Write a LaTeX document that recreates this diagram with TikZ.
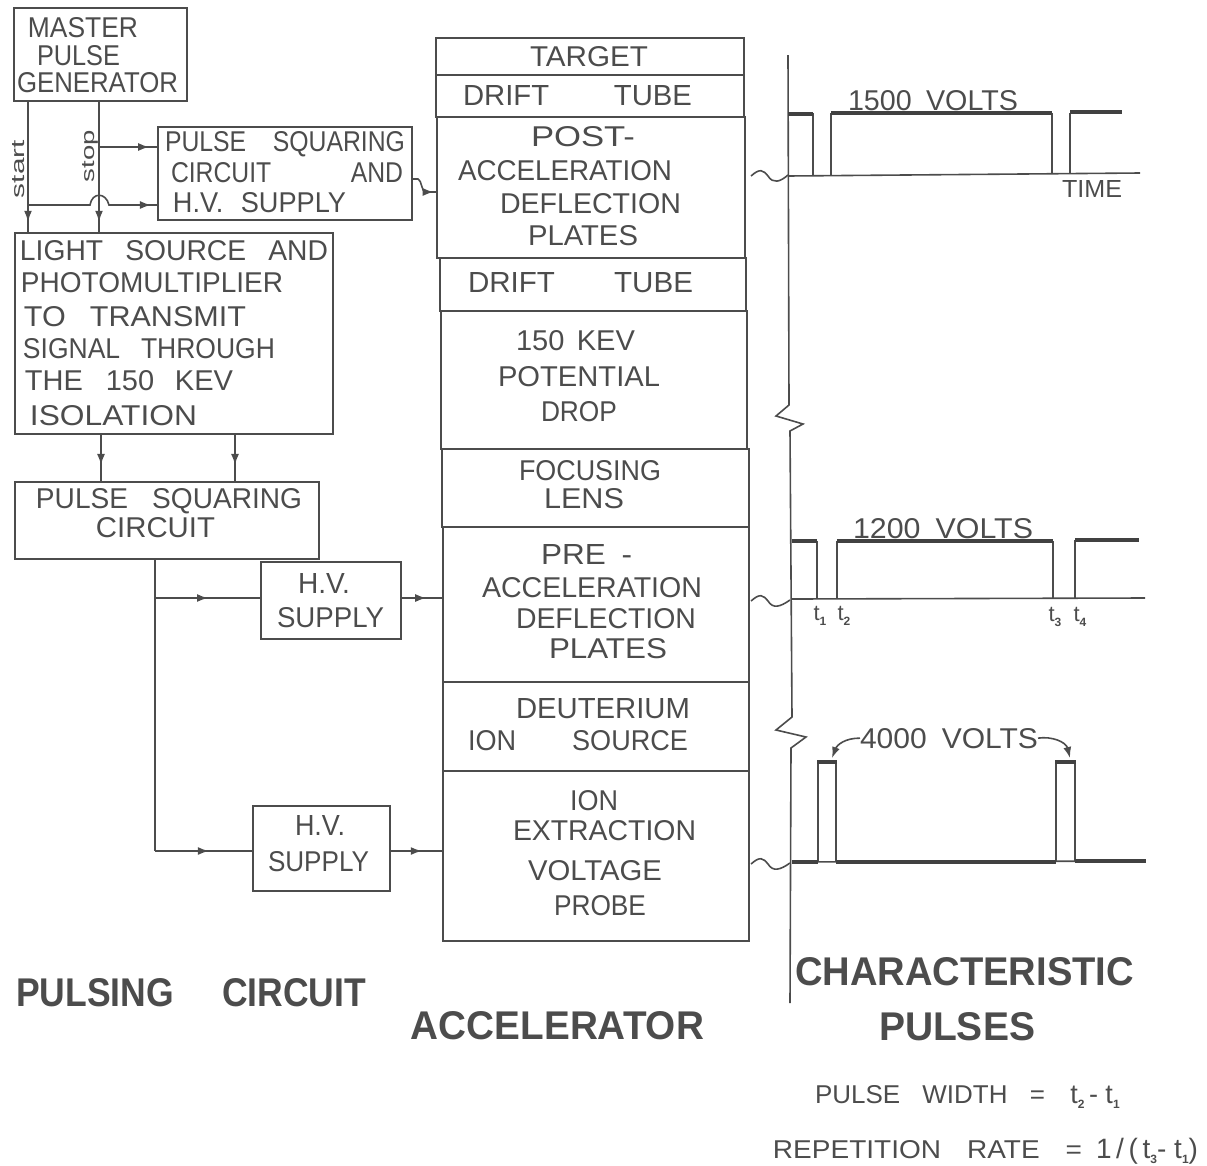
\documentclass[tikz,border=0pt]{standalone}
\usepackage{fontspec}
\usepackage{graphicx}
\setmainfont{Liberation Sans}
\usetikzlibrary{fit,arrows.meta,decorations.markings}
\definecolor{ink}{gray}{0.3}
\tikzset{
  bx/.style={draw=ink,line width=1.6pt,inner sep=0pt},
  lbl/.style={inner sep=0pt,outer sep=0pt,anchor=base,text=ink},
  wire/.style={draw=ink,line width=1.6pt},
  trace/.style={draw=ink,line width=1.6pt},
  level/.style={draw=ink!85!black,line width=3.2pt},
  arrowat/.style={postaction={decorate},decoration={markings,mark=at position #1 with {\arrow{Latex[length=11pt,width=8pt]}}}},
  tip/.style={-{Latex[length=11pt,width=8pt]}}
}
% \tx[capheight]{name}{x1}{x2}{baseline}{text}
\newcommand\tx[6][20]{\node[lbl] (#2) at ({(#3+#4)/2},#5) {\resizebox{\dimexpr #4pt-#3pt\relax}{#1pt}{\fontsize{28}{30}\selectfont #6}};}
\newcommand\bxn[5]{\node[bx,fit={(#2,#3)(#4,#5)}] (#1) {};}
\newcommand\sub[1]{\raisebox{-5pt}{\fontsize{12}{12}\selectfont\textbf{#1}}}
\begin{document}
\begin{tikzpicture}[x=1pt,y=-1pt]
\useasboundingbox (0,0) rectangle (1207,1165);
% left boxes
\bxn{master}{14}{8}{187}{101}
\bxn{psc}{158}{127}{412}{220}
\bxn{light}{15}{233}{333}{434}
\bxn{square}{15}{482}{319}{559}
\bxn{hva}{261}{562}{401}{639}
\bxn{hvb}{253}{806}{390}{891}
% accelerator stack
\bxn{sa}{436}{38}{744}{75}
\bxn{sb}{436}{75}{744}{117}
\bxn{sc}{437}{117}{745}{258}
\bxn{sd}{440}{258}{746}{311}
\bxn{se}{441}{311}{747}{449}
\bxn{sf}{442}{449}{749}{527}
\bxn{sg}{443}{527}{749}{682}
\bxn{sh}{443}{682}{749}{771}
\bxn{si}{443}{771}{749}{941}
% texts, left
\tx{t1}{28}{138}{37}{MASTER}
\tx{t2}{37}{120}{65}{PULSE}
\tx{t3}{17}{178}{92}{GENERATOR}
\node[lbl,rotate=90,anchor=center] (tstart) at (19,169) {\resizebox{58pt}{12pt}{\fontsize{20}{22}\selectfont start}};
\node[lbl,rotate=90,anchor=center] (tstop) at (90,156) {\resizebox{52pt}{12pt}{\fontsize{20}{22}\selectfont stop}};
\tx{t4}{165}{405}{151}{PULSE\hspace{30pt}SQUARING}
\tx{t5}{171}{403}{182}{CIRCUIT\hspace{90pt}AND}
\tx{t6}{173}{346}{212}{H.V.\hspace{18pt}SUPPLY}
\tx{t7}{20}{328}{260}{LIGHT\hspace{22pt}SOURCE\hspace{22pt}AND}
\tx{t8}{21}{283}{292}{PHOTOMULTIPLIER}
\tx{t9}{24}{246}{326}{TO\hspace{22pt}TRANSMIT}
\tx{t10}{23}{275}{358}{SIGNAL\hspace{22pt}THROUGH}
\tx{t11}{25}{233}{390}{THE\hspace{22pt}150\hspace{20pt}KEV}
\tx{t12}{30}{197}{425}{ISOLATION}
\tx{t13}{36}{302}{508}{PULSE\hspace{24pt}SQUARING}
\tx{t14}{96}{215}{537}{CIRCUIT}
\tx{t15}{298}{350}{593}{H.V.}
\tx{t16}{277}{384}{627}{SUPPLY}
\tx{t17}{295}{345}{835}{H.V.}
\tx{t18}{268}{369}{871}{SUPPLY}
% texts, accelerator
\tx{a1}{530}{648}{66}{TARGET}
\tx{a2}{463}{692}{105}{DRIFT\hspace{62pt}TUBE}
\tx{a3}{531}{635}{146}{POST-}
\tx{a4}{458}{672}{180}{ACCELERATION}
\tx{a5}{500}{681}{213}{DEFLECTION}
\tx{a6}{528}{638}{245}{PLATES}
\tx{a7}{468}{693}{292}{DRIFT\hspace{56pt}TUBE}
\tx{a8}{516}{635}{350}{150\hspace{12pt}KEV}
\tx{a9}{498}{660}{386}{POTENTIAL}
\tx{a10}{541}{617}{421}{DROP}
\tx{a11}{519}{661}{480}{FOCUSING}
\tx{a12}{544}{624}{508}{LENS}
\tx{a13}{541}{632}{564}{PRE\hspace{14pt}-}
\tx{a14}{482}{702}{597}{ACCELERATION}
\tx{a15}{516}{696}{628}{DEFLECTION}
\tx{a16}{549}{667}{658}{PLATES}
\tx{a17}{516}{690}{718}{DEUTERIUM}
\tx{a18}{468}{688}{750}{ION\hspace{58pt}SOURCE}
\tx{a19}{570}{618}{810}{ION}
\tx{a20}{513}{696}{840}{EXTRACTION}
\tx{a21}{528}{662}{880}{VOLTAGE}
\tx{a22}{554}{646}{915}{PROBE}
% texts, pulses
\tx{p1}{848}{1018}{110}{1500\hspace{14pt}VOLTS}
\tx[17]{p2}{1062}{1122}{197}{TIME}
\tx{p3}{853}{1033}{538}{1200\hspace{14pt}VOLTS}
\tx{p4}{860}{1038}{748}{4000\hspace{14pt}VOLTS}
\node[lbl] (ta) at (820,620) {\fontsize{22}{24}\selectfont t\sub{1}};
\node[lbl] (tb) at (844,620) {\fontsize{22}{24}\selectfont t\sub{2}};
\node[lbl] (tc) at (1055,621) {\fontsize{22}{24}\selectfont t\sub{3}};
\node[lbl] (td) at (1080,621) {\fontsize{22}{24}\selectfont t\sub{4}};
% titles
\tx[28]{h1}{16}{366}{1006}{\textbf{PULSING\hspace{38pt}CIRCUIT}}
\tx[28]{h2}{411}{704}{1039}{\textbf{ACCELERATOR}}
\tx[28]{h3}{795}{1134}{985}{\textbf{CHARACTERISTIC}}
\tx[28]{h4}{879}{1035}{1040}{\textbf{PULSES}}
% formulas
\tx[18]{f1}{815}{1045}{1103}{PULSE\hspace{24pt}WIDTH\hspace{24pt}=}
\node[lbl] (f2) at (1095,1103) {\fontsize{27}{29}\selectfont t\sub{2}\,- t\sub{1}};
\tx[18]{f3}{773}{1082}{1158}{REPETITION\hspace{26pt}RATE\hspace{26pt}=}
\node[lbl] (f4) at (1147,1158) {\fontsize{28}{30}\selectfont 1\,/\,(\,t\sub{3}- t\sub{1})};
% connector ports
\coordinate (sx) at (28,0);
\coordinate (px) at (99,0);
\coordinate (stopA) at (99,147);
\coordinate (startA) at (28,205);
\coordinate (pscA) at (158,147);
\coordinate (pscB) at (158,205);
\coordinate (drop) at (155,598);
\coordinate (dropEnd) at (155,851);
\coordinate (hvaIn) at (261,598);
\coordinate (hvbIn) at (253,851);
\coordinate (hvaOut) at (401,598);
\coordinate (hvbOut) at (390,851);
\coordinate (accA) at (443,598);
\coordinate (accB) at (443,851);
\coordinate (lx) at (101,0);
\coordinate (rx) at (235,0);
\coordinate (pscOut) at (412,179);
\coordinate (accPost) at (437,192);
% connectors
\path[wire,arrowat=.92] (master.south -| sx) -- (light.north -| sx);
\path[wire,arrowat=.92] (master.south -| px) -- (light.north -| px);
\path[wire,arrowat=.85] (stopA) -- (pscA);
\path[wire,arrowat=.95] (startA) -- (90,205) .. controls (92,192) and (106,192) .. (109,205) -- (pscB);
\path[wire,arrowat=.65] (light.south -| lx) -- (square.north -| lx);
\path[wire,arrowat=.65] (light.south -| rx) -- (square.north -| rx);
\path[wire] (square.south -| drop) -- (drop) -- (dropEnd);
\path[wire,arrowat=.5] (drop) -- (hvaIn);
\path[wire,arrowat=.55] (dropEnd) -- (hvbIn);
\path[wire,arrowat=.6] (hvaOut) -- (accA);
\path[wire,arrowat=.6] (hvbOut) -- (accB);
\path[wire,arrowat=.9] (pscOut) -- (418,179) .. controls (422,180) and (421,192) .. (426,192) -- (accPost);
% time axis with breaks
\draw[trace] (788,55) -- (789,405) -- (776,416) -- (803,424) -- (790,431) -- (792,717) -- (776,730) -- (806,737) -- (791,748) -- (790,1003);
% tildes
\draw[trace] (751,176) .. controls (760,168) and (763,170) .. (768,176) .. controls (773,184) and (780,182) .. (788,175);
\draw[trace] (751,601) .. controls (760,593) and (763,595) .. (768,601) .. controls (773,609) and (780,607) .. (790,600);
\draw[trace] (751,864) .. controls (760,856) and (763,858) .. (768,864) .. controls (773,872) and (780,870) .. (790,863);
% pulse one
\draw[trace] (788,176) -- (1140,173);
\draw[trace] (813,113) -- (813,176) (831,113) -- (831,176) (1052,113) -- (1052,174) (1070,113) -- (1070,174);
\draw[level] (788,114) -- (813,114) (831,113) -- (1052,113) (1070,112) -- (1122,112);
% pulse two
\draw[trace] (792,599) -- (1145,598);
\draw[trace] (817,541) -- (817,599) (837,541) -- (837,599) (1053,541) -- (1053,598) (1075,540) -- (1075,598);
\draw[level] (792,541) -- (817,541) (837,541) -- (1053,541) (1075,540) -- (1139,540);
% pulse three
\draw[trace] (818,862) -- (818,762) (836,862) -- (836,762) (1056,862) -- (1056,762) (1075,862) -- (1075,762);
\draw[trace] (792,862) -- (1145,861);
\draw[level] (792,862) -- (818,862) (836,862) -- (1056,862) (1075,861) -- (1146,861);
\draw[level] (817,762) -- (837,762) (1055,762) -- (1076,762);
\path[wire,tip] (p4.west) .. controls (845,738) and (837,745) .. (832,758);
\path[wire,tip] (p4.east) .. controls (1052,736) and (1066,742) .. (1070,758);
\end{tikzpicture}
\end{document}
